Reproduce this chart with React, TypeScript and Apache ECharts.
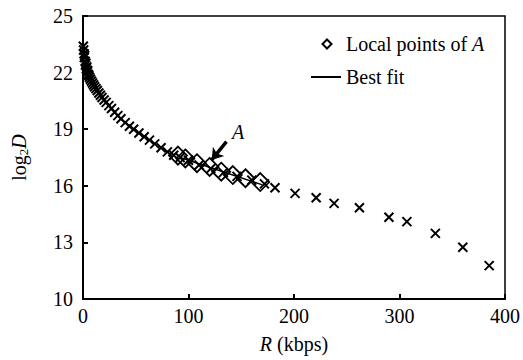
import React, { useEffect, useRef } from "react";
import * as echarts from "echarts";

const crossR = [0.3, 0.6, 1, 1.3, 1.6, 2, 2.4, 2.8, 3.2, 3.6, 4, 4.5, 5, 5.5, 6.2, 7, 8, 9, 10, 11, 12.3, 13.6, 15, 16.5, 18, 20, 22, 24.5, 27, 30, 33, 36, 40, 44, 48, 53, 58, 63, 68, 74, 80, 86, 92, 100, 110, 121, 133, 146, 160, 172, 182, 201, 221, 238, 262, 290, 307, 334, 360, 385];
const crossLog2D = [23.4, 23.2, 23.0, 22.8, 22.9, 22.6, 22.4, 22.5, 22.2, 22.3, 22.0, 22.1, 21.9, 21.85, 21.75, 21.65, 21.55, 21.45, 21.35, 21.25, 21.15, 21.05, 20.92, 20.8, 20.68, 20.55, 20.42, 20.25, 20.1, 19.9, 19.72, 19.55, 19.35, 19.16, 19.0, 18.8, 18.6, 18.42, 18.22, 18.02, 17.8, 17.62, 17.5, 17.35, 17.1, 16.9, 16.7, 16.5, 16.3, 16.1, 15.9, 15.6, 15.37, 15.07, 14.84, 14.33, 14.1, 13.48, 12.74, 11.77];

const localR = [90, 97, 108, 120, 131, 142, 154, 168];
const localLog2D = [17.6, 17.45, 17.2, 17.0, 16.75, 16.57, 16.4, 16.2];

const fitR = [92, 170];
const fitLog2D = [17.5, 16.05];

const arrowFrom = [136, 18.34];
const arrowTo = [122, 17.37];
const labelA = [147, 18.85];

const xTicks = [0, 400, 100];
const yTicks = [10, 25, 3];

const FONT = "Liberation Serif";
const FS = 20;

export default function App() {
  const ref = useRef<HTMLDivElement>(null);
  useEffect(() => {
    document.body.style.margin = "0";
    if (!ref.current) return;
    const chart = echarts.init(ref.current, null, { renderer: "svg" });
    const crossData = crossR.map((r, i) => [r, crossLog2D[i]]);
    const localData = localR.map((r, i) => [r, localLog2D[i]]);
    const fitData = fitR.map((r, i) => [r, fitLog2D[i]]);
    chart.setOption({
      animation: false,
      backgroundColor: "#fff",
      textStyle: { fontFamily: FONT, color: "#000" },
      grid: {
        left: 83, right: 18, top: 16, bottom: 61,
        show: true, borderColor: "#000", borderWidth: 1.5, backgroundColor: "transparent",
      },
      xAxis: {
        type: "value", min: xTicks[0], max: xTicks[1], interval: xTicks[2],
        axisLine: { lineStyle: { color: "#000", width: 2 } },
        axisTick: { inside: true, length: 5, lineStyle: { color: "#000", width: 2 } },
        axisLabel: { fontFamily: FONT, fontSize: FS, color: "#000", margin: 7 },
        splitLine: { show: false },
        name: "{i|R} (kbps)",
        nameLocation: "middle",
        nameGap: 35,
        nameTextStyle: {
          fontFamily: FONT, fontSize: FS, color: "#000",
          rich: { i: { fontFamily: FONT, fontSize: FS, fontStyle: "italic", color: "#000" } },
        },
      },
      yAxis: {
        type: "value", min: yTicks[0], max: yTicks[1], interval: yTicks[2],
        axisLine: { lineStyle: { color: "#000", width: 2 } },
        axisTick: { inside: true, length: 5, lineStyle: { color: "#000", width: 2 } },
        axisLabel: { fontFamily: FONT, fontSize: FS, color: "#000", margin: 10 },
        splitLine: { show: false },
        name: "{n|log}{s|2}{d|D}",
        nameLocation: "middle",
        nameRotate: 90,
        nameGap: 54,
        nameTextStyle: {
          fontFamily: FONT, fontSize: FS, color: "#000",
          rich: {
            n: { fontFamily: FONT, fontSize: FS, color: "#000", verticalAlign: "middle" },
            s: { fontFamily: FONT, fontSize: 13, lineHeight: 13, color: "#000", padding: [8, 0, 0, 0], verticalAlign: "middle" },
            d: { fontFamily: FONT, fontSize: FS, fontStyle: "italic", color: "#000", verticalAlign: "middle" },
          },
        },
      },
      series: [
        {
          type: "scatter",
          name: "Points",
          data: crossData,
          symbol: "path://M0,0L10,10M10,0L0,10",
          symbolSize: 9,
          itemStyle: { color: "transparent", borderColor: "#000", borderWidth: 2, opacity: 1 },
          z: 2,
        },
        {
          type: "scatter",
          name: "Local points of A",
          data: localData,
          symbol: "diamond",
          symbolSize: 18,
          itemStyle: { color: "transparent", borderColor: "#000", borderWidth: 1.8, opacity: 1 },
          z: 3,
        },
        {
          type: "line",
          name: "Best fit",
          data: fitData,
          showSymbol: false,
          symbol: "none",
          lineStyle: { color: "#000", width: 1.5 },
          z: 4,
        },
        {
          type: "line",
          name: "annotation",
          data: [],
          markLine: {
            silent: true,
            symbol: ["none", "arrow"],
            symbolSize: 11,
            label: { show: false },
            lineStyle: { color: "#000", width: 3.5, type: "solid" },
            data: [[{ coord: arrowFrom }, { coord: arrowTo }]],
          },
          markPoint: {
            symbol: "circle",
            symbolSize: 0,
            label: {
              show: true, formatter: "A", position: "inside",
              fontFamily: FONT, fontSize: FS, fontStyle: "italic", color: "#000",
            },
            data: [{ coord: labelA }],
          },
          z: 5,
        },
      ],
      graphic: [
        {
          type: "polygon",
          shape: { points: [[327, 39.5], [331.5, 44], [327, 48.5], [322.5, 44]] },
          style: { fill: "transparent", stroke: "#000", lineWidth: 2 },
        },
        {
          type: "text", x: 346, y: 44,
          style: {
            text: "Local points of {i|A}", fontFamily: FONT, fontSize: FS, fill: "#000",
            verticalAlign: "middle", align: "left",
            rich: { i: { fontFamily: FONT, fontSize: FS, fontStyle: "italic", fill: "#000" } },
          },
        },
        {
          type: "line",
          shape: { x1: 311, y1: 77, x2: 341, y2: 77 },
          style: { stroke: "#000", lineWidth: 2 },
        },
        {
          type: "text", x: 346, y: 77,
          style: { text: "Best fit", fontFamily: FONT, fontSize: FS, fill: "#000", verticalAlign: "middle", align: "left" },
        },
      ],
    });
    return () => chart.dispose();
  }, []);
  return <div ref={ref} style={{ width: 523, height: 360 }} />;
}
